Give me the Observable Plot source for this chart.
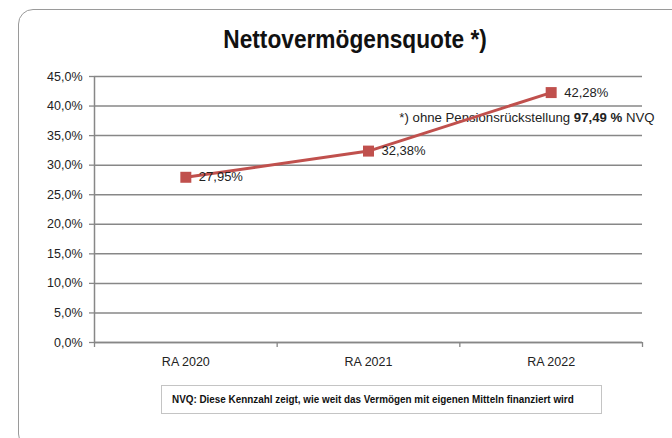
<!DOCTYPE html>
<html>
<head>
<meta charset="utf-8">
<script src="https://cdn.jsdelivr.net/npm/d3@7"></script>
<script src="https://cdn.jsdelivr.net/npm/@observablehq/plot@0.6"></script>
<style>
  html, body { margin: 0; padding: 0; background: #fff; }
  #wrap { position: relative; width: 672px; height: 438px; overflow: hidden; background: #fff; }
  #frame { position: absolute; left: 18px; top: 9px; width: 720px; height: 440px;
           border: 1.5px solid #9a9a9a; border-radius: 15px; box-sizing: border-box; }
  #title { position: absolute; left: 0; width: 710px; top: 24px; text-align: center; }
  #title span { display: inline-block; transform: scaleX(0.89); transform-origin: center;
           font-family: "Liberation Sans", Arial, sans-serif;
           font-weight: bold; font-size: 25.5px; color: #111; line-height: 30px; }
  #chart { position: absolute; left: 0; top: 0; }
  #note { position: absolute; left: 161px; top: 385px; width: 441px; height: 29px; box-sizing: border-box;
          border: 1px solid #c4c4c4; background: #fff; white-space: nowrap; overflow: hidden; }
  #note span { display: inline-block; transform: scaleX(0.86); transform-origin: left center;
          margin-left: 10px;
          font-family: "Liberation Sans", Arial, sans-serif;
          font-weight: bold; font-size: 11.5px; color: #111; line-height: 27px; }
</style>
</head>
<body>
<div id="wrap">
  <div id="frame"></div>
  <div id="chart"></div>
  <div id="title"><span>Nettovermögensquote *)</span></div>
  <div id="note"><span>NVQ: Diese Kennzahl zeigt, wie weit das Vermögen mit eigenen Mitteln finanziert wird</span></div>
</div>
<script>
// ---- data ----
const categories = ["RA 2020", "RA 2021", "RA 2022"];
const values = [0.2795, 0.3238, 0.4228];
const yTicks = [0, 0.05, 0.10, 0.15, 0.20, 0.25, 0.30, 0.35, 0.40, 0.45];
const annotationParts = [
  {text: "*) ohne Pensionsrückstellung ", bold: false},
  {text: "97,49 %", bold: true},
  {text: " NVQ", bold: false}
];

const de = d3.formatLocale({decimal: ",", thousands: ".", grouping: [3], currency: ["", " €"]});
const fmtAxis = de.format(".1%");
const fmtLabel = de.format(".2%");

const data = categories.map((c, i) => ({cat: c, pos: i + 0.5, value: values[i]}));
const bounds = d3.range(categories.length + 1);
const centers = categories.map((c, i) => i + 0.5);
const noteText = annotationParts.map(p => p.text).join("");

const gray = "#878787";
const red = "#C0504D";

const chart = Plot.plot({
  width: 672,
  height: 438,
  marginLeft: 94,
  marginRight: 30,
  marginTop: 76,
  marginBottom: 96,
  style: {fontFamily: "'Liberation Sans', Arial, sans-serif", background: "transparent", color: "#222"},
  x: {type: "linear", domain: [0, categories.length], axis: null},
  y: {domain: [0, 0.45], axis: null},
  marks: [
    Plot.gridY(yTicks, {stroke: gray, strokeOpacity: 1, strokeWidth: 1.5}),
    Plot.axisY(yTicks, {tickFormat: fmtAxis, tickSize: 5, tickPadding: 7, stroke: gray, strokeWidth: 1.3,
                        fontSize: 12.5, fill: "#222", label: null}),
    Plot.ruleX([0], {stroke: gray, strokeWidth: 1.5}),
    Plot.ruleY([0], {stroke: gray, strokeWidth: 1.5}),
    Plot.axisX(bounds, {tickSize: 5, tickFormat: () => "", stroke: gray, strokeWidth: 1.3, label: null}),
    Plot.axisX(centers, {tickSize: 0, tickPadding: 15, tickFormat: (d) => categories[Math.floor(d)],
                         fontSize: 12.5, fill: "#222", label: null}),
    Plot.text([noteText], {frameAnchor: "top-right", dx: 12, dy: 36, textAnchor: "end", fontSize: 13.2,
                           fill: "#222", stroke: "white", strokeWidth: 6}),
    Plot.line(data, {x: "pos", y: "value", stroke: red, strokeWidth: 3}),
    Plot.dot(data, {x: "pos", y: "value", symbol: "square", r: 6.2, fill: red, stroke: "none"}),
    Plot.text(data, {x: "pos", y: "value", text: d => fmtLabel(d.value), dx: 13, textAnchor: "start",
                     fontSize: 13, fill: "#222"})
  ]
});

// mixed bold formatting for the annotation
for (const t of chart.querySelectorAll("text")) {
  if (t.textContent === noteText) {
    t.textContent = "";
    for (const p of annotationParts) {
      const ts = document.createElementNS("http://www.w3.org/2000/svg", "tspan");
      ts.textContent = p.text;
      if (p.bold) ts.setAttribute("font-weight", "bold");
      t.appendChild(ts);
    }
  }
}

document.getElementById("chart").appendChild(chart);
</script>
</body>
</html>
